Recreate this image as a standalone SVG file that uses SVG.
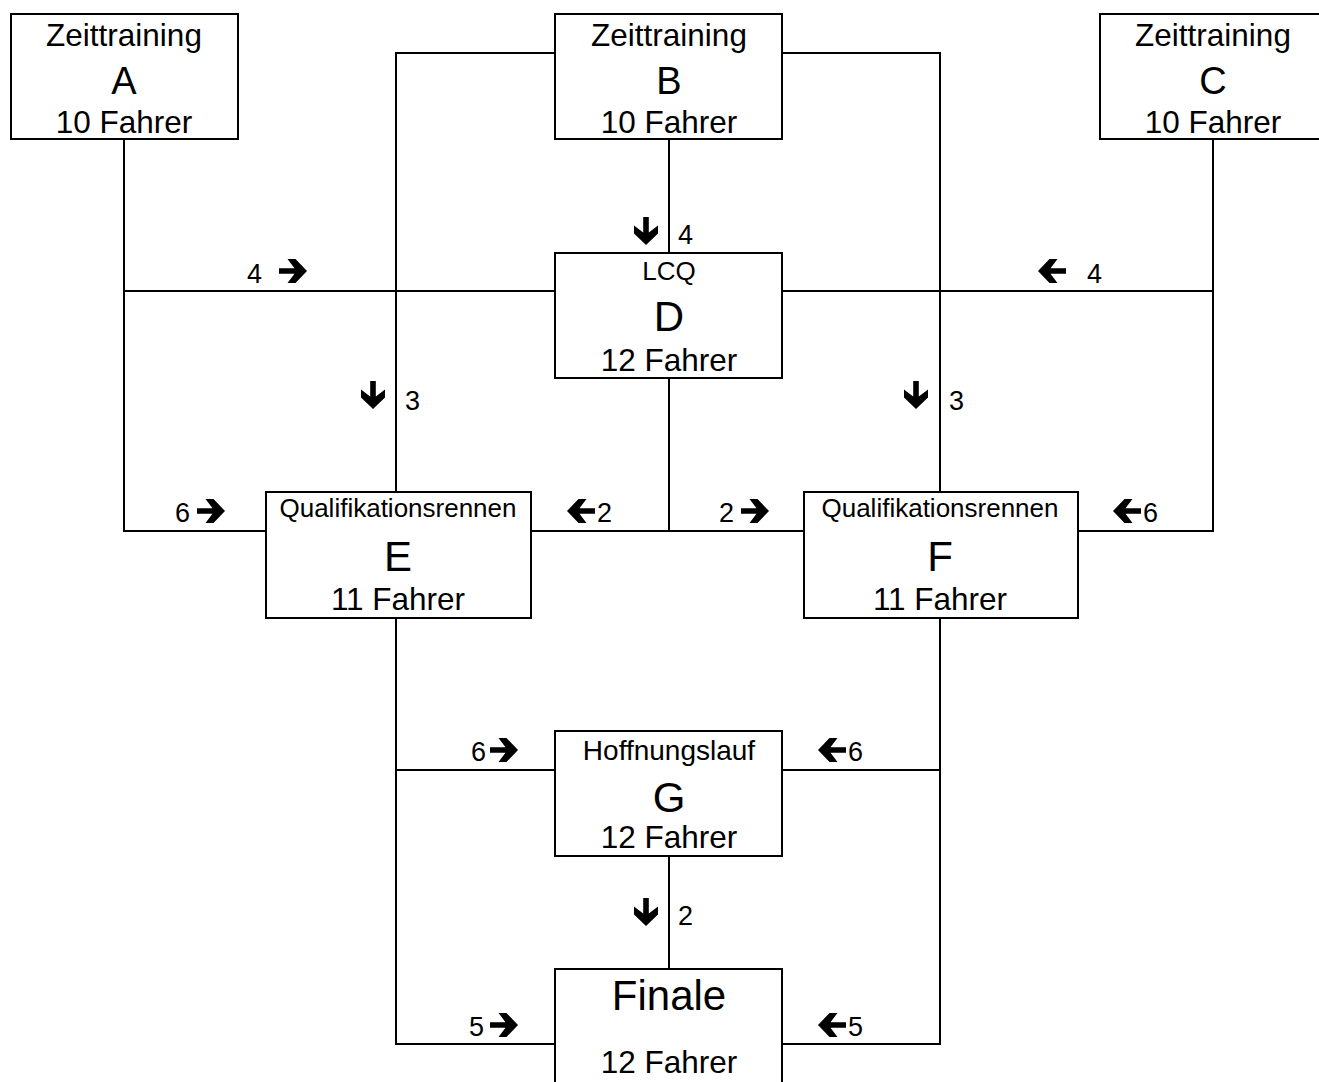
<svg xmlns="http://www.w3.org/2000/svg" width="1319" height="1082" viewBox="0 0 1319 1082">
<style>
.box{fill:#fff;stroke:#000;stroke-width:2}
.ln{fill:none;stroke:#000;stroke-width:2}
text{font-family:"Liberation Sans",Arial,sans-serif;fill:#000;text-anchor:middle}
.t1{font-size:31.5px}
.big{font-size:38px}
.huge{font-size:42px}
.sm{font-size:26px}
.fin{font-size:42px}
.lb{font-size:27px;text-anchor:start}
</style>
<defs>
<path id="ar" d="M0,-2.8 H15.5 L8.5,-12 H16.5 L28,0 L16.5,12 H8.5 L15.5,2.8 H0 Z" fill="#000"/>
</defs>
<rect width="1319" height="1082" fill="#fff"/>
<g id="connectors">
<path class="ln" d="M124,139 V531 H266"/>
<path class="ln" d="M124,291 H555"/>
<path class="ln" d="M555,53 H396 V492"/>
<path class="ln" d="M782,53 H940 V492"/>
<path class="ln" d="M669,139 V253"/>
<path class="ln" d="M1213,139 V531 H1078"/>
<path class="ln" d="M782,291 H1213"/>
<path class="ln" d="M669,378 V531"/>
<path class="ln" d="M531,531 H804"/>
<path class="ln" d="M396,618 V1044 H555"/>
<path class="ln" d="M396,770 H555"/>
<path class="ln" d="M940,618 V1044 H782"/>
<path class="ln" d="M782,770 H940"/>
<path class="ln" d="M669,856 V969"/>
<g id="labels">
<text class="lb" x="247" y="283">4</text>
<use href="#ar" transform="translate(279,271)"/>
<use href="#ar" transform="translate(646,217) rotate(90)"/>
<text class="lb" x="678" y="244">4</text>
<use href="#ar" transform="translate(1066,271) rotate(180)"/>
<text class="lb" x="1087" y="283">4</text>
<use href="#ar" transform="translate(373,381) rotate(90)"/>
<text class="lb" x="405" y="410">3</text>
<use href="#ar" transform="translate(916,381) rotate(90)"/>
<text class="lb" x="949" y="410">3</text>
<text class="lb" x="175" y="522">6</text>
<use href="#ar" transform="translate(197,511)"/>
<use href="#ar" transform="translate(595,511) rotate(180)"/>
<text class="lb" x="597" y="522">2</text>
<text class="lb" x="719" y="522">2</text>
<use href="#ar" transform="translate(741,511)"/>
<use href="#ar" transform="translate(1141,511) rotate(180)"/>
<text class="lb" x="1143" y="522">6</text>
<text class="lb" x="471" y="761">6</text>
<use href="#ar" transform="translate(490,750)"/>
<use href="#ar" transform="translate(846,750) rotate(180)"/>
<text class="lb" x="848" y="761">6</text>
<use href="#ar" transform="translate(646,898) rotate(90)"/>
<text class="lb" x="678" y="925">2</text>
<text class="lb" x="469" y="1036">5</text>
<use href="#ar" transform="translate(490,1025)"/>
<use href="#ar" transform="translate(846,1025) rotate(180)"/>
<text class="lb" x="848" y="1036">5</text>
</g>
</g>
<g id="node-A">
<rect class="box" x="11" y="14" width="227" height="125"/>
<text class="t1" x="124" y="46">Zeittraining</text>
<text class="big" x="124" y="94">A</text>
<text class="t1" x="124" y="133">10 Fahrer</text>
</g>
<g id="node-B">
<rect class="box" x="555" y="14" width="227" height="125"/>
<text class="t1" x="669" y="46">Zeittraining</text>
<text class="big" x="669" y="94">B</text>
<text class="t1" x="669" y="133">10 Fahrer</text>
</g>
<g id="node-C">
<rect class="box" x="1100" y="14" width="227" height="125"/>
<text class="t1" x="1213" y="46">Zeittraining</text>
<text class="big" x="1213" y="94">C</text>
<text class="t1" x="1213" y="133">10 Fahrer</text>
</g>
<g id="node-D">
<rect class="box" x="555" y="253" width="227" height="125"/>
<text class="sm" x="669" y="280">LCQ</text>
<text class="huge" x="669" y="331">D</text>
<text class="t1" x="669" y="371">12 Fahrer</text>
</g>
<g id="node-E">
<rect class="box" x="266" y="492" width="265" height="126"/>
<text class="sm" x="398" y="517">Qualifikationsrennen</text>
<text class="huge" x="398" y="571">E</text>
<text class="t1" x="398" y="610">11 Fahrer</text>
</g>
<g id="node-F">
<rect class="box" x="804" y="492" width="274" height="126"/>
<text class="sm" x="940" y="517">Qualifikationsrennen</text>
<text class="huge" x="940" y="571">F</text>
<text class="t1" x="940" y="610">11 Fahrer</text>
</g>
<g id="node-G">
<rect class="box" x="555" y="731" width="227" height="125"/>
<text class="sm" x="669" y="760" style="font-size:28px">Hoffnungslauf</text>
<text class="huge" x="669" y="812">G</text>
<text class="t1" x="669" y="848">12 Fahrer</text>
</g>
<g id="node-Finale">
<rect class="box" x="555" y="969" width="227" height="130"/>
<text class="fin" x="669" y="1010">Finale</text>
<text class="t1" x="669" y="1073">12 Fahrer</text>
</g>
</svg>
